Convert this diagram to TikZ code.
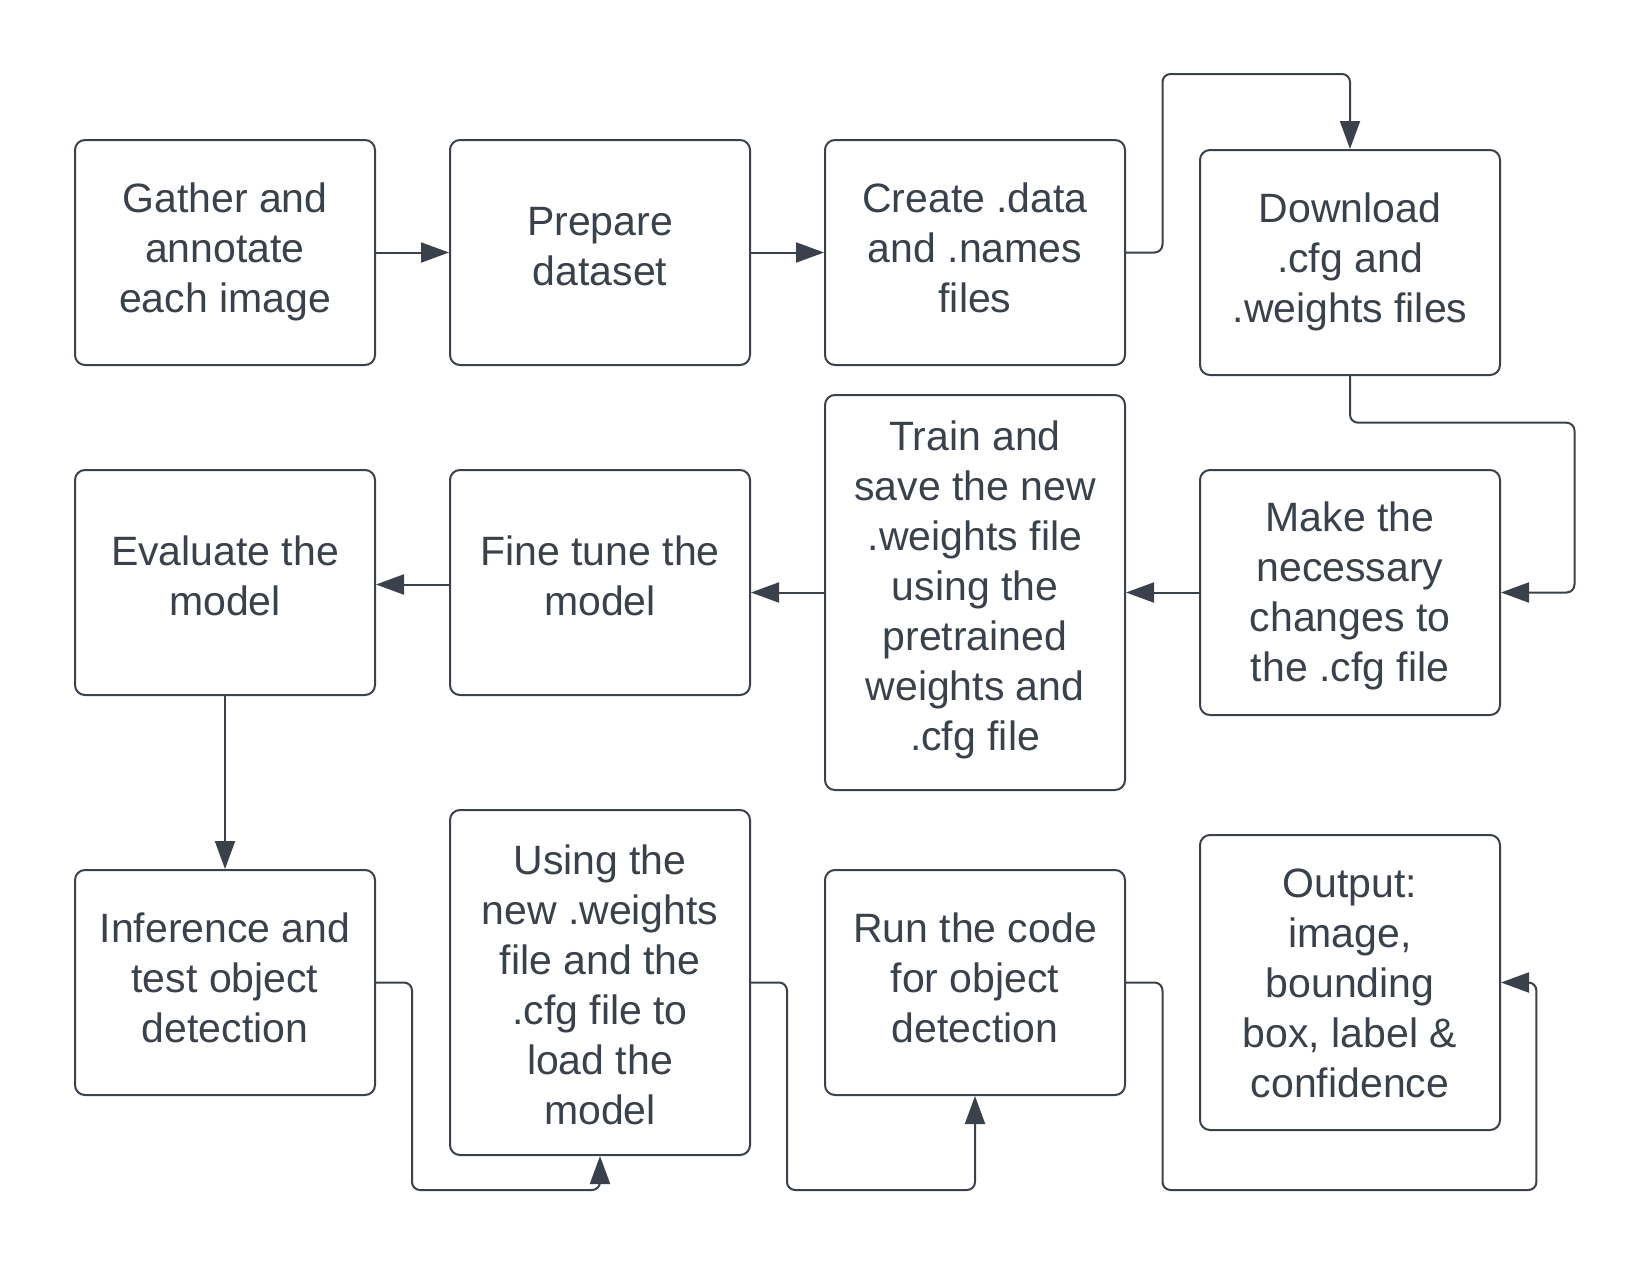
\documentclass[tikz,border=0pt]{standalone}
\usepackage{fontspec}
\setmainfont{Liberation Sans}
\usetikzlibrary{arrows.meta}
\definecolor{ink}{HTML}{3A414A}
\begin{document}
\begin{tikzpicture}[x=1pt,y=-1pt,
  box/.style={draw=ink, line width=2pt, rounded corners=10pt, fill=white,
    minimum width=300pt, inner sep=0pt},
  txt/.style={inner sep=0pt, align=center, text=ink,
    font=\fontsize{41}{50}\selectfont},
  conn/.style={draw=ink, line width=2pt, rounded corners=8pt,
    -{Triangle[length=28pt,width=20pt]}}]
\fill[white] (0,0) rectangle (1652,1266);
\useasboundingbox (0,0) rectangle (1652,1266);
% boxes
\node[box, minimum height=225pt] (gather) at (225,252.5) {};
\node[box, minimum height=225pt] (prep) at (600,252.5) {};
\node[box, minimum height=225pt] (create) at (975,252.5) {};
\node[box, minimum height=225pt] (down) at (1350,262.5) {};
\node[box, minimum height=225pt] (eval) at (225,582.5) {};
\node[box, minimum height=225pt] (fine) at (600,582.5) {};
\node[box, minimum height=395pt] (train) at (975,592.5) {};
\node[box, minimum height=245pt] (make) at (1350,592.5) {};
\node[box, minimum height=225pt] (infer) at (225,982.5) {};
\node[box, minimum height=345pt] (using) at (600,982.5) {};
\node[box, minimum height=225pt] (run) at (975,982.5) {};
\node[box, minimum height=295pt] (out) at (1350,982.5) {};
% texts
\node[txt] (gatherT) at (gather.center) {\strut Gather and\\annotate\\each image\strut};
\node[txt] (prepT) at ([yshift=2.5pt]prep.center) {\strut Prepare\\dataset\strut};
\node[txt] (createT) at (create.center) {\strut Create .data\\and .names\\files\strut};
\node[txt] (downT) at (down.center) {\strut Download\\.cfg and\\.weights files\strut};
\node[txt] (evalT) at ([yshift=2.5pt]eval.center) {\strut Evaluate the\\model\strut};
\node[txt] (fineT) at ([yshift=2.5pt]fine.center) {\strut Fine tune the\\model\strut};
\node[txt] (trainT) at ([yshift=2.5pt]train.center) {\strut Train and\\save the new\\.weights file\\using the\\pretrained\\weights and\\.cfg file\strut};
\node[txt] (makeT) at ([yshift=-4pt]make.center) {\strut Make the\\necessary\\changes to\\the .cfg file\strut};
\node[txt] (inferT) at (infer.center) {\strut Inference and\\test object\\detection\strut};
\node[txt] (usingT) at ([yshift=-7pt]using.center) {\strut Using the\\new .weights\\file and the\\.cfg file to\\load the\\model\strut};
\node[txt] (runT) at (run.center) {\strut Run the code\\for object\\detection\strut};
\node[txt] (outT) at ([yshift=-5pt]out.center) {\strut Output:\\image,\\bounding\\box, label \&\\confidence\strut};
% junctions
\coordinate (j1) at (1162.5,74);
\coordinate (j2) at (1574.5,422.7);
\coordinate (j3) at (412,1190);
\coordinate (j4) at (787,1190);
\coordinate (j5) at (1162.5,1190);
\coordinate (j6) at (1536.4,1190);
% connectors
\draw[conn] (gather) -- (prep);
\draw[conn] (prep) -- (create);
\draw[conn] (create.east) -| (j1) -| (down.north);
\draw[conn] (down.south) |- (j2) |- (make.east);
\draw[conn] (make.west) -- (train.east);
\draw[conn] (train.west) -- (train.west -| fine.east);
\draw[conn] ([yshift=-2pt]fine.west) -- ([yshift=-2pt]eval.east);
\draw[conn] (eval.south) -- (infer.north);
\draw[conn] (infer.east) -| (j3) -| (using.south);
\draw[conn] (using.east) -| (j4) -| (run.south);
\draw[conn] (run.east) -| (j5) -- (j6) |- (out.east);
\end{tikzpicture}
\end{document}
